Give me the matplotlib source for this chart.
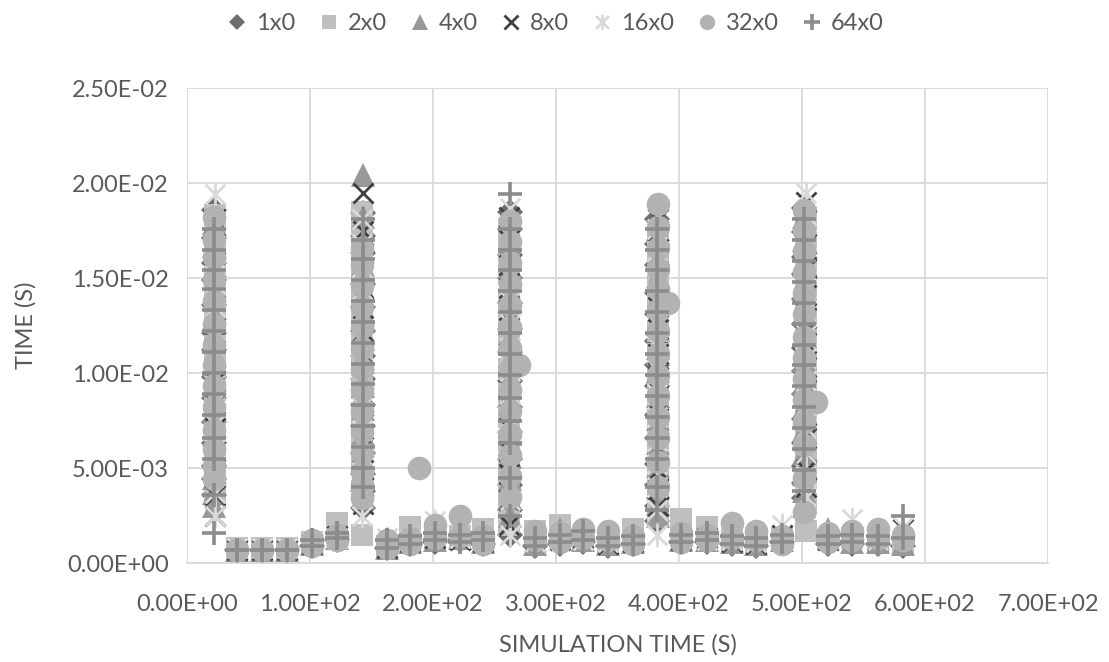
import matplotlib
matplotlib.use("Agg")
import matplotlib.pyplot as plt
from matplotlib.path import Path
from matplotlib.ticker import FormatStrFormatter, MultipleLocator

plt.rcParams["font.family"] = ["Lato", "DejaVu Sans"]

TEXT = "#595959"
GRID = "#d9d9d9"

SERIES = ["1x0", "2x0", "4x0", "8x0", "16x0", "32x0", "64x0"]

# simulation times of the low "flat" samples between the events (shared)
FLAT_T = [41, 61, 81, 102, 122, 163, 181, 202, 222, 241, 283, 303,
          322, 342, 363, 402, 423, 443, 463, 484, 521, 541, 562, 582]

# --- 1x0
spike_x_1x0 = [22, 143, 263, 382, 502]
spike_y_1x0 = [
    [0.0186, 0.0171, 0.0158, 0.0149, 0.0136, 0.0121, 0.0112, 0.0098, 0.0087, 0.0074, 0.0063, 0.0051, 0.0044, 0.0036],
    [0.0184, 0.0172, 0.0163, 0.0147, 0.0135, 0.0122, 0.0109, 0.0097, 0.0083, 0.0072, 0.0058, 0.0047, 0.0038, 0.0029],
    [0.0185, 0.0176, 0.0162, 0.0150, 0.0137, 0.0123, 0.0111, 0.0096, 0.0082, 0.0069, 0.0055, 0.0041, 0.0028, 0.0015],
    [0.0181, 0.0168, 0.0157, 0.0142, 0.0131, 0.0117, 0.0104, 0.0093, 0.0078, 0.0066, 0.0052, 0.0041, 0.0030, 0.0022],
    [0.0187, 0.0174, 0.0161, 0.0152, 0.0139, 0.0126, 0.0113, 0.0101, 0.0089, 0.0076, 0.0063, 0.0051, 0.0042, 0.0034],
]
flat_1x0 = [0.0007, 0.0007, 0.0007, 0.0009, 0.0012, 0.0008, 0.0010, 0.0011,
            0.0012, 0.0010, 0.0009, 0.0010, 0.0011, 0.0009, 0.0010, 0.0011,
            0.0011, 0.0010, 0.0009, 0.0011, 0.0010, 0.0010, 0.0010, 0.0009]

# --- 2x0
spike_x_2x0 = [23, 142, 262, 383, 503]
spike_y_2x0 = [
    [0.0183, 0.0176, 0.0163, 0.0151, 0.0139, 0.0127, 0.0114, 0.0103, 0.0091, 0.0078, 0.0066, 0.0055, 0.0046, 0.0036],
    [0.0185, 0.0178, 0.0166, 0.0153, 0.0141, 0.0129, 0.0116, 0.0104, 0.0092, 0.0079, 0.0066, 0.0052, 0.0038, 0.0015],
    [0.0176, 0.0164, 0.0152, 0.0139, 0.0127, 0.0115, 0.0102, 0.0089, 0.0077, 0.0064, 0.0052, 0.0040, 0.0029, 0.0020],
    [0.0171, 0.0159, 0.0146, 0.0135, 0.0122, 0.0110, 0.0097, 0.0085, 0.0073, 0.0061, 0.0050, 0.0042, 0.0035, 0.0024],
    [0.0181, 0.0168, 0.0156, 0.0143, 0.0131, 0.0118, 0.0106, 0.0094, 0.0081, 0.0069, 0.0057, 0.0045, 0.0031, 0.0017],
]
flat_2x0 = [0.0008, 0.0008, 0.0008, 0.0011, 0.0021, 0.0009, 0.0019, 0.0013,
            0.0014, 0.0018, 0.0017, 0.0020, 0.0012, 0.0011, 0.0018, 0.0023,
            0.0019, 0.0012, 0.0011, 0.0013, 0.0012, 0.0013, 0.0011, 0.0010]

# --- 4x0
spike_x_4x0 = [22, 143, 263, 383, 502]
spike_y_4x0 = [
    [0.0179, 0.0167, 0.0154, 0.0142, 0.0129, 0.0117, 0.0105, 0.0093, 0.0080, 0.0068, 0.0056, 0.0045, 0.0037, 0.0030],
    [0.0204, 0.0182, 0.0170, 0.0157, 0.0144, 0.0131, 0.0118, 0.0106, 0.0093, 0.0081, 0.0068, 0.0055, 0.0044, 0.0035],
    [0.0181, 0.0169, 0.0156, 0.0143, 0.0131, 0.0118, 0.0106, 0.0093, 0.0081, 0.0068, 0.0056, 0.0044, 0.0034, 0.0025],
    [0.0176, 0.0163, 0.0151, 0.0138, 0.0126, 0.0113, 0.0101, 0.0088, 0.0076, 0.0063, 0.0051, 0.0040, 0.0031, 0.0025],
    [0.0182, 0.0170, 0.0157, 0.0145, 0.0132, 0.0120, 0.0107, 0.0095, 0.0082, 0.0070, 0.0058, 0.0047, 0.0038, 0.0030],
]
flat_4x0 = [0.0007, 0.0007, 0.0007, 0.0010, 0.0013, 0.0008, 0.0011, 0.0012,
            0.0013, 0.0011, 0.0010, 0.0018, 0.0012, 0.0010, 0.0011, 0.0012,
            0.0012, 0.0011, 0.0010, 0.0012, 0.0018, 0.0011, 0.0011, 0.0010]

# --- 8x0
spike_x_8x0 = [23, 143, 262, 383, 503]
spike_y_8x0 = [
    [0.0181, 0.0168, 0.0156, 0.0145, 0.0133, 0.0121, 0.0108, 0.0096, 0.0084, 0.0071, 0.0059, 0.0047, 0.0036, 0.0025],
    [0.0195, 0.0175, 0.0163, 0.0145, 0.0134, 0.0122, 0.0110, 0.0097, 0.0085, 0.0073, 0.0061, 0.0049, 0.0040, 0.0031],
    [0.0182, 0.0170, 0.0157, 0.0145, 0.0133, 0.0120, 0.0108, 0.0096, 0.0083, 0.0071, 0.0059, 0.0047, 0.0033, 0.0020],
    [0.0181, 0.0175, 0.0161, 0.0148, 0.0135, 0.0123, 0.0110, 0.0098, 0.0086, 0.0073, 0.0060, 0.0049, 0.0039, 0.0030],
    [0.0190, 0.0168, 0.0156, 0.0155, 0.0141, 0.0129, 0.0116, 0.0103, 0.0091, 0.0078, 0.0066, 0.0058, 0.0049, 0.0040],
]
flat_8x0 = [0.0007, 0.0007, 0.0007, 0.0010, 0.0014, 0.0008, 0.0011, 0.0013,
            0.0012, 0.0011, 0.0011, 0.0012, 0.0013, 0.0010, 0.0011, 0.0012,
            0.0013, 0.0011, 0.0010, 0.0015, 0.0012, 0.0014, 0.0012, 0.0018]

# --- 16x0
spike_x_16x0 = [23, 142, 263, 382, 503]
spike_y_16x0 = [
    [0.0194, 0.0172, 0.0160, 0.0147, 0.0135, 0.0122, 0.0110, 0.0098, 0.0085, 0.0073, 0.0060, 0.0048, 0.0037, 0.0025],
    [0.0181, 0.0168, 0.0156, 0.0144, 0.0131, 0.0119, 0.0106, 0.0094, 0.0082, 0.0070, 0.0057, 0.0045, 0.0034, 0.0025],
    [0.0187, 0.0175, 0.0163, 0.0150, 0.0138, 0.0126, 0.0113, 0.0101, 0.0089, 0.0076, 0.0064, 0.0051, 0.0033, 0.0015],
    [0.0176, 0.0164, 0.0151, 0.0139, 0.0126, 0.0114, 0.0102, 0.0089, 0.0077, 0.0064, 0.0052, 0.0040, 0.0028, 0.0015],
    [0.0195, 0.0183, 0.0170, 0.0158, 0.0145, 0.0133, 0.0120, 0.0108, 0.0096, 0.0083, 0.0071, 0.0058, 0.0046, 0.0035],
]
flat_16x0 = [0.0008, 0.0008, 0.0008, 0.0011, 0.0013, 0.0013, 0.0012, 0.0022,
             0.0013, 0.0012, 0.0011, 0.0013, 0.0012, 0.0011, 0.0012, 0.0013,
             0.0012, 0.0012, 0.0011, 0.0020, 0.0013, 0.0023, 0.0012, 0.0019]

# --- 32x0
spike_x_32x0 = [22, 142, 263, 383, 502]
spike_y_32x0 = [
    [0.0182, 0.0170, 0.0161, 0.0149, 0.0138, 0.0126, 0.0115, 0.0104, 0.0093, 0.0082, 0.0070, 0.0060, 0.0051, 0.0044],
    [0.0166, 0.0157, 0.0146, 0.0135, 0.0124, 0.0113, 0.0102, 0.0091, 0.0080, 0.0069, 0.0058, 0.0048, 0.0041, 0.0034],
    [0.0180, 0.0169, 0.0158, 0.0147, 0.0136, 0.0124, 0.0113, 0.0102, 0.0091, 0.0080, 0.0068, 0.0057, 0.0046, 0.0035],
    [0.0189, 0.0177, 0.0166, 0.0155, 0.0144, 0.0133, 0.0122, 0.0110, 0.0099, 0.0088, 0.0077, 0.0066, 0.0053, 0.0040],
    [0.0186, 0.0175, 0.0164, 0.0153, 0.0142, 0.0131, 0.0119, 0.0108, 0.0097, 0.0086, 0.0074, 0.0062, 0.0045, 0.0027],
]
flat_32x0 = [0.0007, 0.0007, 0.0007, 0.0009, 0.0012, 0.0008, 0.0010, 0.0020,
             0.0025, 0.0010, 0.0017, 0.0011, 0.0018, 0.0017, 0.0010, 0.0011,
             0.0012, 0.0021, 0.0017, 0.0010, 0.0011, 0.0012, 0.0018, 0.0012]
flat2_32x0 = [0.0007, 0.0007, 0.0007, 0.0012, 0.0015, 0.0012, 0.0013, 0.0013,
              0.0014, 0.0014, 0.0012, 0.0016, 0.0013, 0.0012, 0.0014, 0.0016,
              0.0015, 0.0013, 0.0012, 0.0014, 0.0016, 0.0017, 0.0013, 0.0015]
extra_x_32x0 = [189, 270, 391, 511]
extra_y_32x0 = [0.0050, 0.0104, 0.0137, 0.0085]

# --- 64x0
spike_x_64x0 = [22, 143, 263, 382, 502]
spike_y_64x0 = [
    [0.0176, 0.0165, 0.0154, 0.0144, 0.0133, 0.0122, 0.0111, 0.0100, 0.0089, 0.0078, 0.0066, 0.0055, 0.0036, 0.0016],
    [0.0181, 0.0170, 0.0160, 0.0149, 0.0138, 0.0127, 0.0116, 0.0105, 0.0094, 0.0083, 0.0072, 0.0061, 0.0050, 0.0040],
    [0.0194, 0.0176, 0.0165, 0.0154, 0.0143, 0.0132, 0.0121, 0.0110, 0.0099, 0.0087, 0.0075, 0.0063, 0.0045, 0.0025],
    [0.0176, 0.0165, 0.0154, 0.0143, 0.0132, 0.0121, 0.0110, 0.0099, 0.0088, 0.0077, 0.0066, 0.0055, 0.0040, 0.0028],
    [0.0181, 0.0170, 0.0159, 0.0148, 0.0137, 0.0126, 0.0115, 0.0104, 0.0093, 0.0082, 0.0071, 0.0060, 0.0049, 0.0038],
]
flat_64x0 = [0.0007, 0.0007, 0.0007, 0.0009, 0.0013, 0.0008, 0.0010, 0.0012,
             0.0011, 0.0016, 0.0009, 0.0011, 0.0017, 0.0009, 0.0010, 0.0011,
             0.0012, 0.0010, 0.0009, 0.0011, 0.0010, 0.0011, 0.0010, 0.0025]
flat2_64x0 = [0.0007, 0.0007, 0.0007, 0.0012, 0.0016, 0.0012, 0.0014, 0.0016,
              0.0015, 0.0012, 0.0013, 0.0015, 0.0012, 0.0013, 0.0014, 0.0015,
              0.0016, 0.0014, 0.0013, 0.0015, 0.0014, 0.0015, 0.0014, 0.0013]

# Excel-style asterisk: X with a vertical bar
ASTERISK = Path(
    [(-0.5, -0.5), (0.5, 0.5), (-0.5, 0.5), (0.5, -0.5), (0, -0.6), (0, 0.6)],
    [Path.MOVETO, Path.LINETO, Path.MOVETO, Path.LINETO, Path.MOVETO, Path.LINETO],
)

STYLES = {
    "1x0": dict(marker="D", color="#6e6e6e", ms=13, mew=0),
    "2x0": dict(marker="s", color="#bfbfbf", ms=16, mew=0),
    "4x0": dict(marker="^", color="#999999", ms=17, mew=0),
    "8x0": dict(marker="x", color="#404040", ms=15, mew=2),
    "16x0": dict(marker=ASTERISK, color="#d9d9d9", ms=17, mew=2),
    "32x0": dict(marker="o", color="#b2b2b2", ms=17, mew=0),
    "64x0": dict(marker="+", color="#8c8c8c", ms=17, mew=2.6),
}


def series_points(spike_x, spike_y, flats, extra_x=(), extra_y=()):
    xs, ys = [], []
    for t, col in zip(spike_x, spike_y):
        xs += [t] * len(col)
        ys += col
    for flat in flats:
        xs += FLAT_T
        ys += flat
    xs += list(extra_x)
    ys += list(extra_y)
    return xs, ys


data = {
    "1x0": series_points(spike_x_1x0, spike_y_1x0, [flat_1x0]),
    "2x0": series_points(spike_x_2x0, spike_y_2x0, [flat_2x0]),
    "4x0": series_points(spike_x_4x0, spike_y_4x0, [flat_4x0]),
    "8x0": series_points(spike_x_8x0, spike_y_8x0, [flat_8x0]),
    "16x0": series_points(spike_x_16x0, spike_y_16x0, [flat_16x0]),
    "32x0": series_points(spike_x_32x0, spike_y_32x0, [flat_32x0, flat2_32x0],
                          extra_x_32x0, extra_y_32x0),
    "64x0": series_points(spike_x_64x0, spike_y_64x0, [flat_64x0, flat2_64x0]),
}

fig = plt.figure(figsize=(11.09, 6.62), dpi=100)
ax = fig.add_axes([0.1686, 0.1495, 0.7764, 0.7175])

for name in SERIES:
    xs, ys = data[name]
    st = STYLES[name]
    mfc = "none" if name in ("8x0", "16x0", "64x0") else st["color"]
    ax.plot(xs, ys, linestyle="none", marker=st["marker"], markersize=st["ms"],
            markerfacecolor=mfc, markeredgecolor=st["color"],
            markeredgewidth=st["mew"], label=name, zorder=3)

ax.set_xlim(0, 700)
ax.set_ylim(0, 0.025)
ax.xaxis.set_major_locator(MultipleLocator(100))
ax.yaxis.set_major_locator(MultipleLocator(0.005))
ax.xaxis.set_major_formatter(FormatStrFormatter("%.2E"))
ax.yaxis.set_major_formatter(FormatStrFormatter("%.2E"))
ax.grid(True, color=GRID, linewidth=1.3, zorder=0)
ax.set_axisbelow(True)
for side in ("top", "right", "left"):
    ax.spines[side].set_visible(False)
ax.spines["bottom"].set_color(GRID)
ax.spines["bottom"].set_linewidth(1.3)
ax.tick_params(length=0, labelsize=17, labelcolor=TEXT)
ax.tick_params(axis="x", pad=22)
ax.tick_params(axis="y", pad=13)
ax.set_xlabel("SIMULATION TIME (S)", fontsize=17, color=TEXT, labelpad=14)
ax.set_ylabel("TIME (S)", fontsize=17, color=TEXT, labelpad=22)

leg = fig.legend(loc="upper center", bbox_to_anchor=(0.5, 1.012), ncol=7,
                 frameon=False, fontsize=17, markerscale=0.65,
                 handlelength=1.0, handletextpad=0.3, columnspacing=0.9)
for txt in leg.get_texts():
    txt.set_color(TEXT)

fig.savefig("out.png", dpi=100)
